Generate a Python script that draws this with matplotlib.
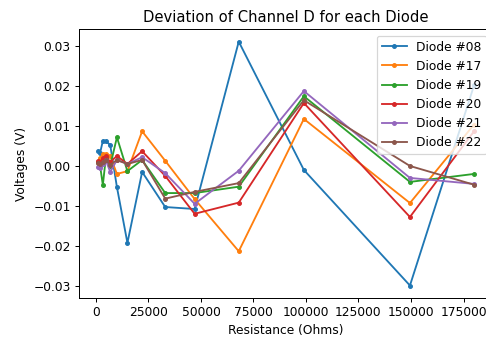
import numpy as np
import matplotlib
matplotlib.use('Agg')
import matplotlib.pyplot as plt

# 電阻值 (Ohms)
resistance = [1000, 2000, 3300, 4700, 6800, 10000, 15000, 22000,
              33000, 47000, 68000, 99000, 149500, 180000]

# 每個二極體在 Channel D 的偏差電壓 (V)
diode_08 = [0.0037, 0.0033, 0.0063, 0.0062, 0.0053, -0.0053, -0.0193, -0.0015,
            -0.0103, -0.0108, 0.0312, -0.0010, -0.0300, 0.0202]
diode_17 = [0.0010, 0.0020, 0.0030, 0.0030, 0.0025, -0.0020, -0.0013, 0.0087,
            0.0013, -0.0083, -0.0214, 0.0118, -0.0093, 0.0104]
diode_19 = [0.0010, 0.0000, -0.0048, 0.0020, 0.0000, 0.0072, -0.0013, 0.0015,
            -0.0068, -0.0068, -0.0052, 0.0175, -0.0040, -0.0020]
diode_20 = [0.0012, 0.0010, 0.0020, 0.0025, 0.0010, 0.0025, 0.0005, 0.0037,
            -0.0025, -0.0120, -0.0092, 0.0158, -0.0128, 0.0087]
diode_21 = [-0.0003, -0.0005, 0.0005, 0.0015, -0.0015, 0.0015, 0.0005, 0.0022,
            -0.0018, -0.0095, -0.0012, 0.0188, -0.0030, -0.0045]
diode_22 = [0.0008, 0.0005, 0.0010, 0.0015, 0.0003, 0.0015, 0.0005, 0.0015,
            -0.0082, -0.0065, -0.0043, 0.0165, 0.0000, -0.0047]

labels = ['Diode #08', 'Diode #17', 'Diode #19', 'Diode #20', 'Diode #21', 'Diode #22']
series = [diode_08, diode_17, diode_19, diode_20, diode_21, diode_22]

dpi = 88.6
fig = plt.figure(figsize=(486 / dpi, 337 / dpi), dpi=dpi)
# 右邊界超出畫布一點，圖例會貼齊右緣
ax = fig.add_axes([0.163, 0.1166, 0.851, 0.796])

for lab, v in zip(labels, series):
    ax.plot(resistance, v, marker='.', label=lab)

ax.set_title('Deviation of Channel D for each Diode')
ax.set_xlabel('Resistance (Ohms)')
ax.set_ylabel('Voltages (V)')
ax.set_xticks([0, 25000, 50000, 75000, 100000, 125000, 150000, 175000])
ax.legend(loc='upper right')

fig.savefig('out.png', dpi=dpi)
